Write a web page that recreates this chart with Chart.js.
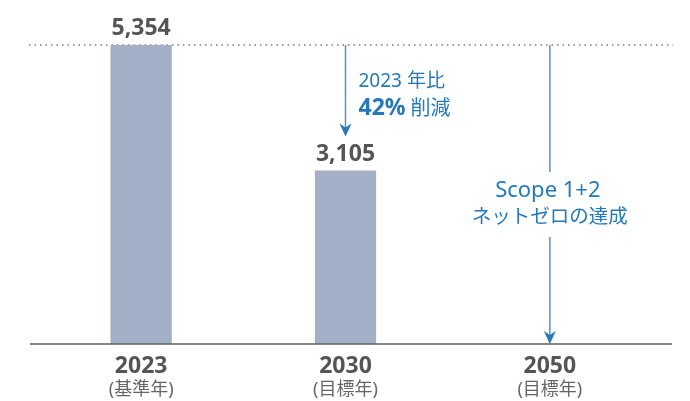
<!DOCTYPE html>
<html>
<head>
<meta charset="utf-8">
<script src="https://cdn.jsdelivr.net/npm/chart.js@4"></script>
<style>
  html, body { margin: 0; padding: 0; background: #fff; }
  #wrap { width: 690px; height: 401px; position: relative; }
</style>
</head>
<body>
<div id="wrap"><canvas id="c"></canvas></div>
<script>
const years = ['2023', '2030', '2050'];
const yearNotes = ['(基準年)', '(目標年)', '(目標年)'];
const emissions = [5354, 3105, null];
const reductionNote = ['2023 年比', '42%', '削減'];
const netZeroNote = ['Scope 1+2', 'ネットゼロの達成'];

const FONT = '"Noto Sans", "Noto Sans CJK JP", sans-serif';
const BLUE = '#2479bd';
const BLUE_LINE = '#4f97cf';

function arrowHead(ctx, x, tipY) {
  ctx.save();
  ctx.fillStyle = BLUE;
  ctx.beginPath();
  ctx.moveTo(x, tipY);
  ctx.lineTo(x - 6, tipY - 13);
  ctx.lineTo(x, tipY - 9);
  ctx.lineTo(x + 6, tipY - 13);
  ctx.closePath();
  ctx.fill();
  ctx.restore();
}

function vLine(ctx, x, y1, y2) {
  ctx.save();
  ctx.strokeStyle = BLUE_LINE;
  ctx.lineWidth = 1.5;
  ctx.beginPath();
  ctx.moveTo(x, y1);
  ctx.lineTo(x, y2);
  ctx.stroke();
  ctx.restore();
}

const decorations = {
  id: 'decorations',
  beforeDatasetsDraw(chart) {
    const { ctx, scales: { y } } = chart;
    const top = y.getPixelForValue(emissions[0]);
    ctx.save();
    // dotted reference line at the base-year level
    ctx.strokeStyle = '#7a7a7a';
    ctx.lineWidth = 1.5;
    ctx.setLineDash([1.5, 4]);
    ctx.beginPath();
    ctx.moveTo(29, top);
    ctx.lineTo(673, top);
    ctx.stroke();
    ctx.restore();
  },
  afterDatasetsDraw(chart) {
    const { ctx, scales: { x, y } } = chart;
    const top = y.getPixelForValue(emissions[0]);
    const base = y.getPixelForValue(0);

    // axis line
    ctx.save();
    ctx.strokeStyle = '#5f5f5f';
    ctx.lineWidth = 1.5;
    ctx.beginPath();
    ctx.moveTo(30, base);
    ctx.lineTo(672, base);
    ctx.stroke();
    ctx.restore();

    ctx.save();
    ctx.textAlign = 'center';
    ctx.textBaseline = 'alphabetic';
    years.forEach((yr, i) => {
      const cx = x.getPixelForValue(i);
      ctx.fillStyle = '#555';
      ctx.font = 'bold 23px ' + FONT;
      ctx.fillText(yr, cx, base + 29);
      ctx.fillStyle = '#666';
      ctx.font = '18px ' + FONT;
      ctx.fillText(yearNotes[i], cx, base + 51);
      if (emissions[i] != null) {
        ctx.fillStyle = '#555';
        ctx.font = 'bold 23px ' + FONT;
        ctx.fillText(emissions[i].toLocaleString('en-US'), cx, y.getPixelForValue(emissions[i]) - 10);
      }
    });
    ctx.restore();

    // 2030 reduction arrow
    const x2030 = x.getPixelForValue(1);
    const tip1 = y.getPixelForValue(emissions[1]) - 34;
    vLine(ctx, x2030, top, tip1 - 4);
    arrowHead(ctx, x2030, tip1);

    ctx.save();
    ctx.fillStyle = BLUE;
    ctx.textAlign = 'left';
    ctx.font = '19px ' + FONT;
    ctx.fillText(reductionNote[0], x2030 + 13, 87);
    ctx.font = 'bold 23px ' + FONT;
    ctx.fillText(reductionNote[1], x2030 + 13, 115);
    const w = ctx.measureText(reductionNote[1]).width;
    ctx.font = '20px ' + FONT;
    ctx.fillText(reductionNote[2], x2030 + 13 + w + 5, 115);
    ctx.restore();

    // 2050 net-zero arrow, broken around its label
    const x2050 = x.getPixelForValue(2);
    vLine(ctx, x2050, top, 172);
    vLine(ctx, x2050, 237, base - 4);
    arrowHead(ctx, x2050, base);

    ctx.save();
    ctx.fillStyle = BLUE;
    ctx.textAlign = 'center';
    ctx.font = '22px ' + FONT;
    ctx.fillText(netZeroNote[0], x2050 - 2, 197);
    ctx.font = '19.5px ' + FONT;
    ctx.fillText(netZeroNote[1], x2050, 223);
    ctx.restore();
  }
};

new Chart(document.getElementById('c'), {
  type: 'bar',
  data: {
    labels: years,
    datasets: [{
      data: emissions,
      backgroundColor: '#a2afc6',
      borderWidth: 0,
      barPercentage: 0.3,
      categoryPercentage: 1
    }]
  },
  options: {
    responsive: true,
    maintainAspectRatio: false,
    animation: false,
    layout: { padding: { left: 39, right: 38, top: 45, bottom: 57 } },
    plugins: { legend: { display: false }, tooltip: { enabled: false } },
    scales: {
      x: { display: false },
      y: { display: false, min: 0, max: emissions[0] }
    }
  },
  plugins: [decorations]
});
</script>
</body>
</html>
